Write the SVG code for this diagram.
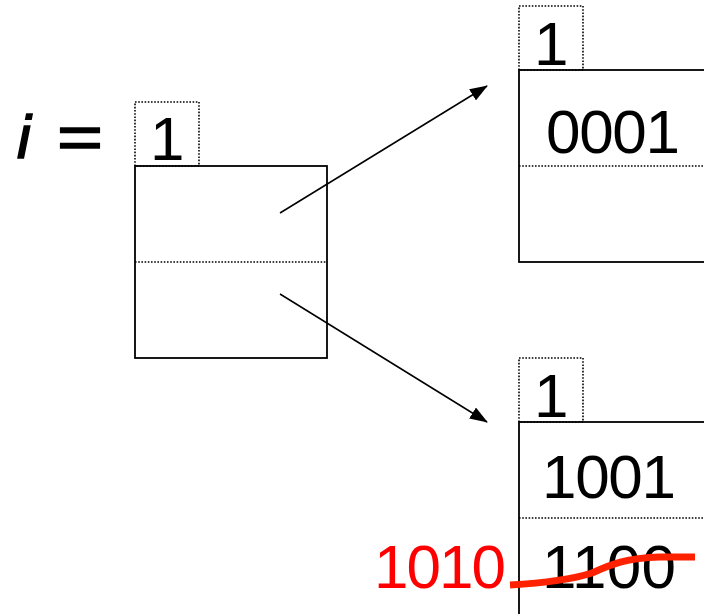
<svg xmlns="http://www.w3.org/2000/svg" width="704" height="614" viewBox="0 0 704 614">
<style>
.box{fill:#fff;stroke:#000;stroke-width:1.8}
.dot{fill:none;stroke:#000;stroke-width:1.6;stroke-dasharray:1.6 1.6}
.t{font-family:"Liberation Sans",Arial,sans-serif;font-size:62px;fill:#000}
.conn{stroke:#000;stroke-width:1.5;fill:none}
</style>
<defs>
<marker id="arr" markerWidth="18" markerHeight="13" refX="17" refY="6.5" orient="auto" markerUnits="userSpaceOnUse" viewBox="0 0 18 13">
<path d="M0,0 L18,6.5 L0,13 z" fill="#000"/>
</marker>
</defs>
<rect width="704" height="614" fill="#fff"/>
<text class="t" x="17" y="158" font-style="italic" font-size="66" stroke="#000" stroke-width="1.5">i</text>
<text class="t" x="57" y="158" font-size="66" stroke="#000" stroke-width="1.5" textLength="46" lengthAdjust="spacingAndGlyphs">=</text>
<g id="dir">
<rect class="box" x="135" y="166" width="192" height="192"/>
<line class="dot" x1="135" y1="262" x2="327" y2="262"/>
<rect class="dot" x="135" y="102" width="64" height="64"/>
<text class="t" x="150" y="160">1</text>
</g>
<g id="bucket1">
<rect class="box" x="519" y="70" width="200" height="192"/>
<line class="dot" x1="519" y1="166" x2="710" y2="166"/>
<rect class="dot" x="519" y="6" width="64" height="64"/>
<text class="t" x="534" y="65">1</text>
<text class="t" x="546" y="153" textLength="134">0001</text>
</g>
<g id="bucket2">
<rect class="box" x="519" y="422" width="200" height="200"/>
<line class="dot" x1="519" y1="518" x2="710" y2="518"/>
<rect class="dot" x="519" y="358" width="64" height="64"/>
<text class="t" x="534" y="417">1</text>
<text class="t" x="542" y="498" textLength="134">1001</text>
<text class="t" x="542" y="588" textLength="134">1100</text>
<text class="t" x="374" y="588" textLength="132" style="fill:#ff0000">1010</text>
<path d="M510,585 C545,583 570,580 592,573 C610,565 625,558 660,557 L695,557" fill="none" stroke="#ff2200" stroke-width="7"/>
</g>
<g id="connectors">
<line class="conn" x1="280" y1="213" x2="487" y2="86" marker-end="url(#arr)"/>
<line class="conn" x1="280" y1="294" x2="487" y2="422" marker-end="url(#arr)"/>
</g>
</svg>
